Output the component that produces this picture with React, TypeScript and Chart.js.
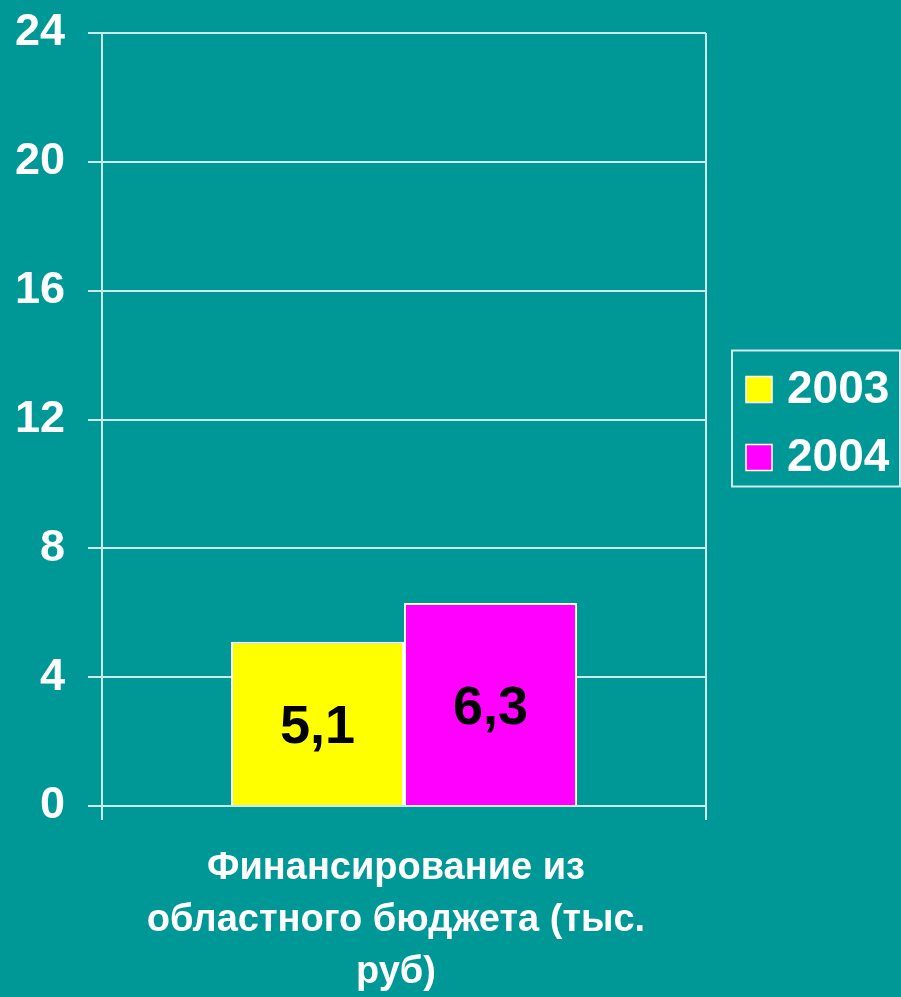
import React, { useEffect, useRef } from "react";
import { Chart, registerables } from "chart.js";

Chart.register(...registerables);

const categories = [["Финансирование из", "областного бюджета (тыс.", "руб)"]];
const seriesLabels = ["2003", "2004"];
const values2003 = [5.1];
const values2004 = [6.3];
const seriesColors = ["#FFFF00", "#FF00FF"];
const yTicks = [0, 4, 8, 12, 16, 20, 24];

const BG = "#009896";
const LINE = "#cdeaea";
const FONT = "'Liberation Sans', Arial, sans-serif";

const valueLabelPlugin = {
  id: "valueLabels",
  afterDatasetsDraw(chart: any) {
    const ctx = chart.ctx;
    ctx.save();
    ctx.font = `bold 54px ${FONT}`;
    ctx.fillStyle = "#000";
    ctx.textAlign = "center";
    ctx.textBaseline = "middle";
    chart.data.datasets.forEach((ds: any, i: number) => {
      const meta = chart.getDatasetMeta(i);
      meta.data.forEach((el: any, j: number) => {
        const v = ds.data[j];
        const txt = String(v).replace(".", ",");
        const cy = (el.y + el.base) / 2 + 5;
        ctx.fillText(txt, el.x, cy);
      });
    });
    ctx.restore();
  },
};

const boxLegendPlugin = {
  id: "boxLegend",
  afterDraw(chart: any) {
    const ctx = chart.ctx;
    const area = chart.chartArea;
    const boxW = 168;
    const boxH = 136;
    const left = chart.width - boxW - 1;
    const top = (area.top + area.bottom) / 2 - boxH / 2 - 1;
    ctx.save();
    ctx.strokeStyle = LINE;
    ctx.lineWidth = 2;
    ctx.strokeRect(left, top, boxW, boxH);
    ctx.font = `bold 46px ${FONT}`;
    chart.data.datasets.forEach((ds: any, i: number) => {
      const cy = top + 39 + i * 68;
      ctx.fillStyle = ds.backgroundColor;
      ctx.fillRect(left + 14, cy - 13, 26, 26);
      ctx.strokeStyle = "#ffffff";
      ctx.lineWidth = 1.5;
      ctx.strokeRect(left + 14, cy - 13, 26, 26);
      ctx.fillStyle = "#ffffff";
      ctx.textAlign = "left";
      ctx.textBaseline = "middle";
      ctx.fillText(ds.label, left + 55, cy + 1);
    });
    ctx.restore();
  },
};

export default function App() {
  const canvasRef = useRef<HTMLCanvasElement | null>(null);

  useEffect(() => {
    document.body.style.margin = "0";
    document.body.style.background = BG;
    const canvas = canvasRef.current;
    if (!canvas) return;
    const chart = new Chart(canvas, {
      type: "bar",
      data: {
        labels: categories as any,
        datasets: [
          {
            label: seriesLabels[0],
            data: values2003,
            backgroundColor: seriesColors[0],
            borderColor: "#ffffff",
            borderWidth: 2,
            barPercentage: 1,
            categoryPercentage: 0.573,
          },
          {
            label: seriesLabels[1],
            data: values2004,
            backgroundColor: seriesColors[1],
            borderColor: "#ffffff",
            borderWidth: 2,
            barPercentage: 1,
            categoryPercentage: 0.573,
          },
        ],
      },
      options: {
        animation: false,
        responsive: true,
        maintainAspectRatio: false,
        layout: { padding: { top: 33, right: 195, bottom: 0, left: 0 } },
        plugins: {
          legend: { display: false },
          tooltip: { enabled: false },
        },
        scales: {
          x: {
            grid: {
              display: true,
              color: LINE,
              lineWidth: 2,
              tickLength: 14,
              offset: true,
            },
            border: { display: true, color: LINE, width: 2 },
            ticks: {
              color: "#ffffff",
              font: { family: FONT, size: 38, weight: "bold", lineHeight: 1.36 },
              padding: 23,
              labelOffset: -8,
              maxRotation: 0,
              autoSkip: false,
            },
            afterFit: (scale: any) => {
              scale.height = 191;
              scale.paddingLeft = 0;
              scale.paddingRight = 0;
            },
          },
          y: {
            min: 0,
            max: 24,
            afterBuildTicks: (scale: any) => {
              scale.ticks = yTicks.map((v) => ({ value: v }));
            },
            grid: {
              color: LINE,
              lineWidth: 2,
              tickLength: 14,
            },
            border: { display: true, color: LINE, width: 2 },
            ticks: {
              color: "#ffffff",
              font: { family: FONT, size: 45, weight: "bold" },
              padding: 23,
            },
            afterFit: (scale: any) => {
              scale.width = 102;
              scale.paddingTop = 0;
              scale.paddingBottom = 0;
            },
          },
        },
      },
      plugins: [valueLabelPlugin, boxLegendPlugin],
    });
    return () => chart.destroy();
  }, []);

  return (
    <div style={{ width: 901, height: 997, position: "relative", background: BG }}>
      <canvas ref={canvasRef} />
    </div>
  );
}
